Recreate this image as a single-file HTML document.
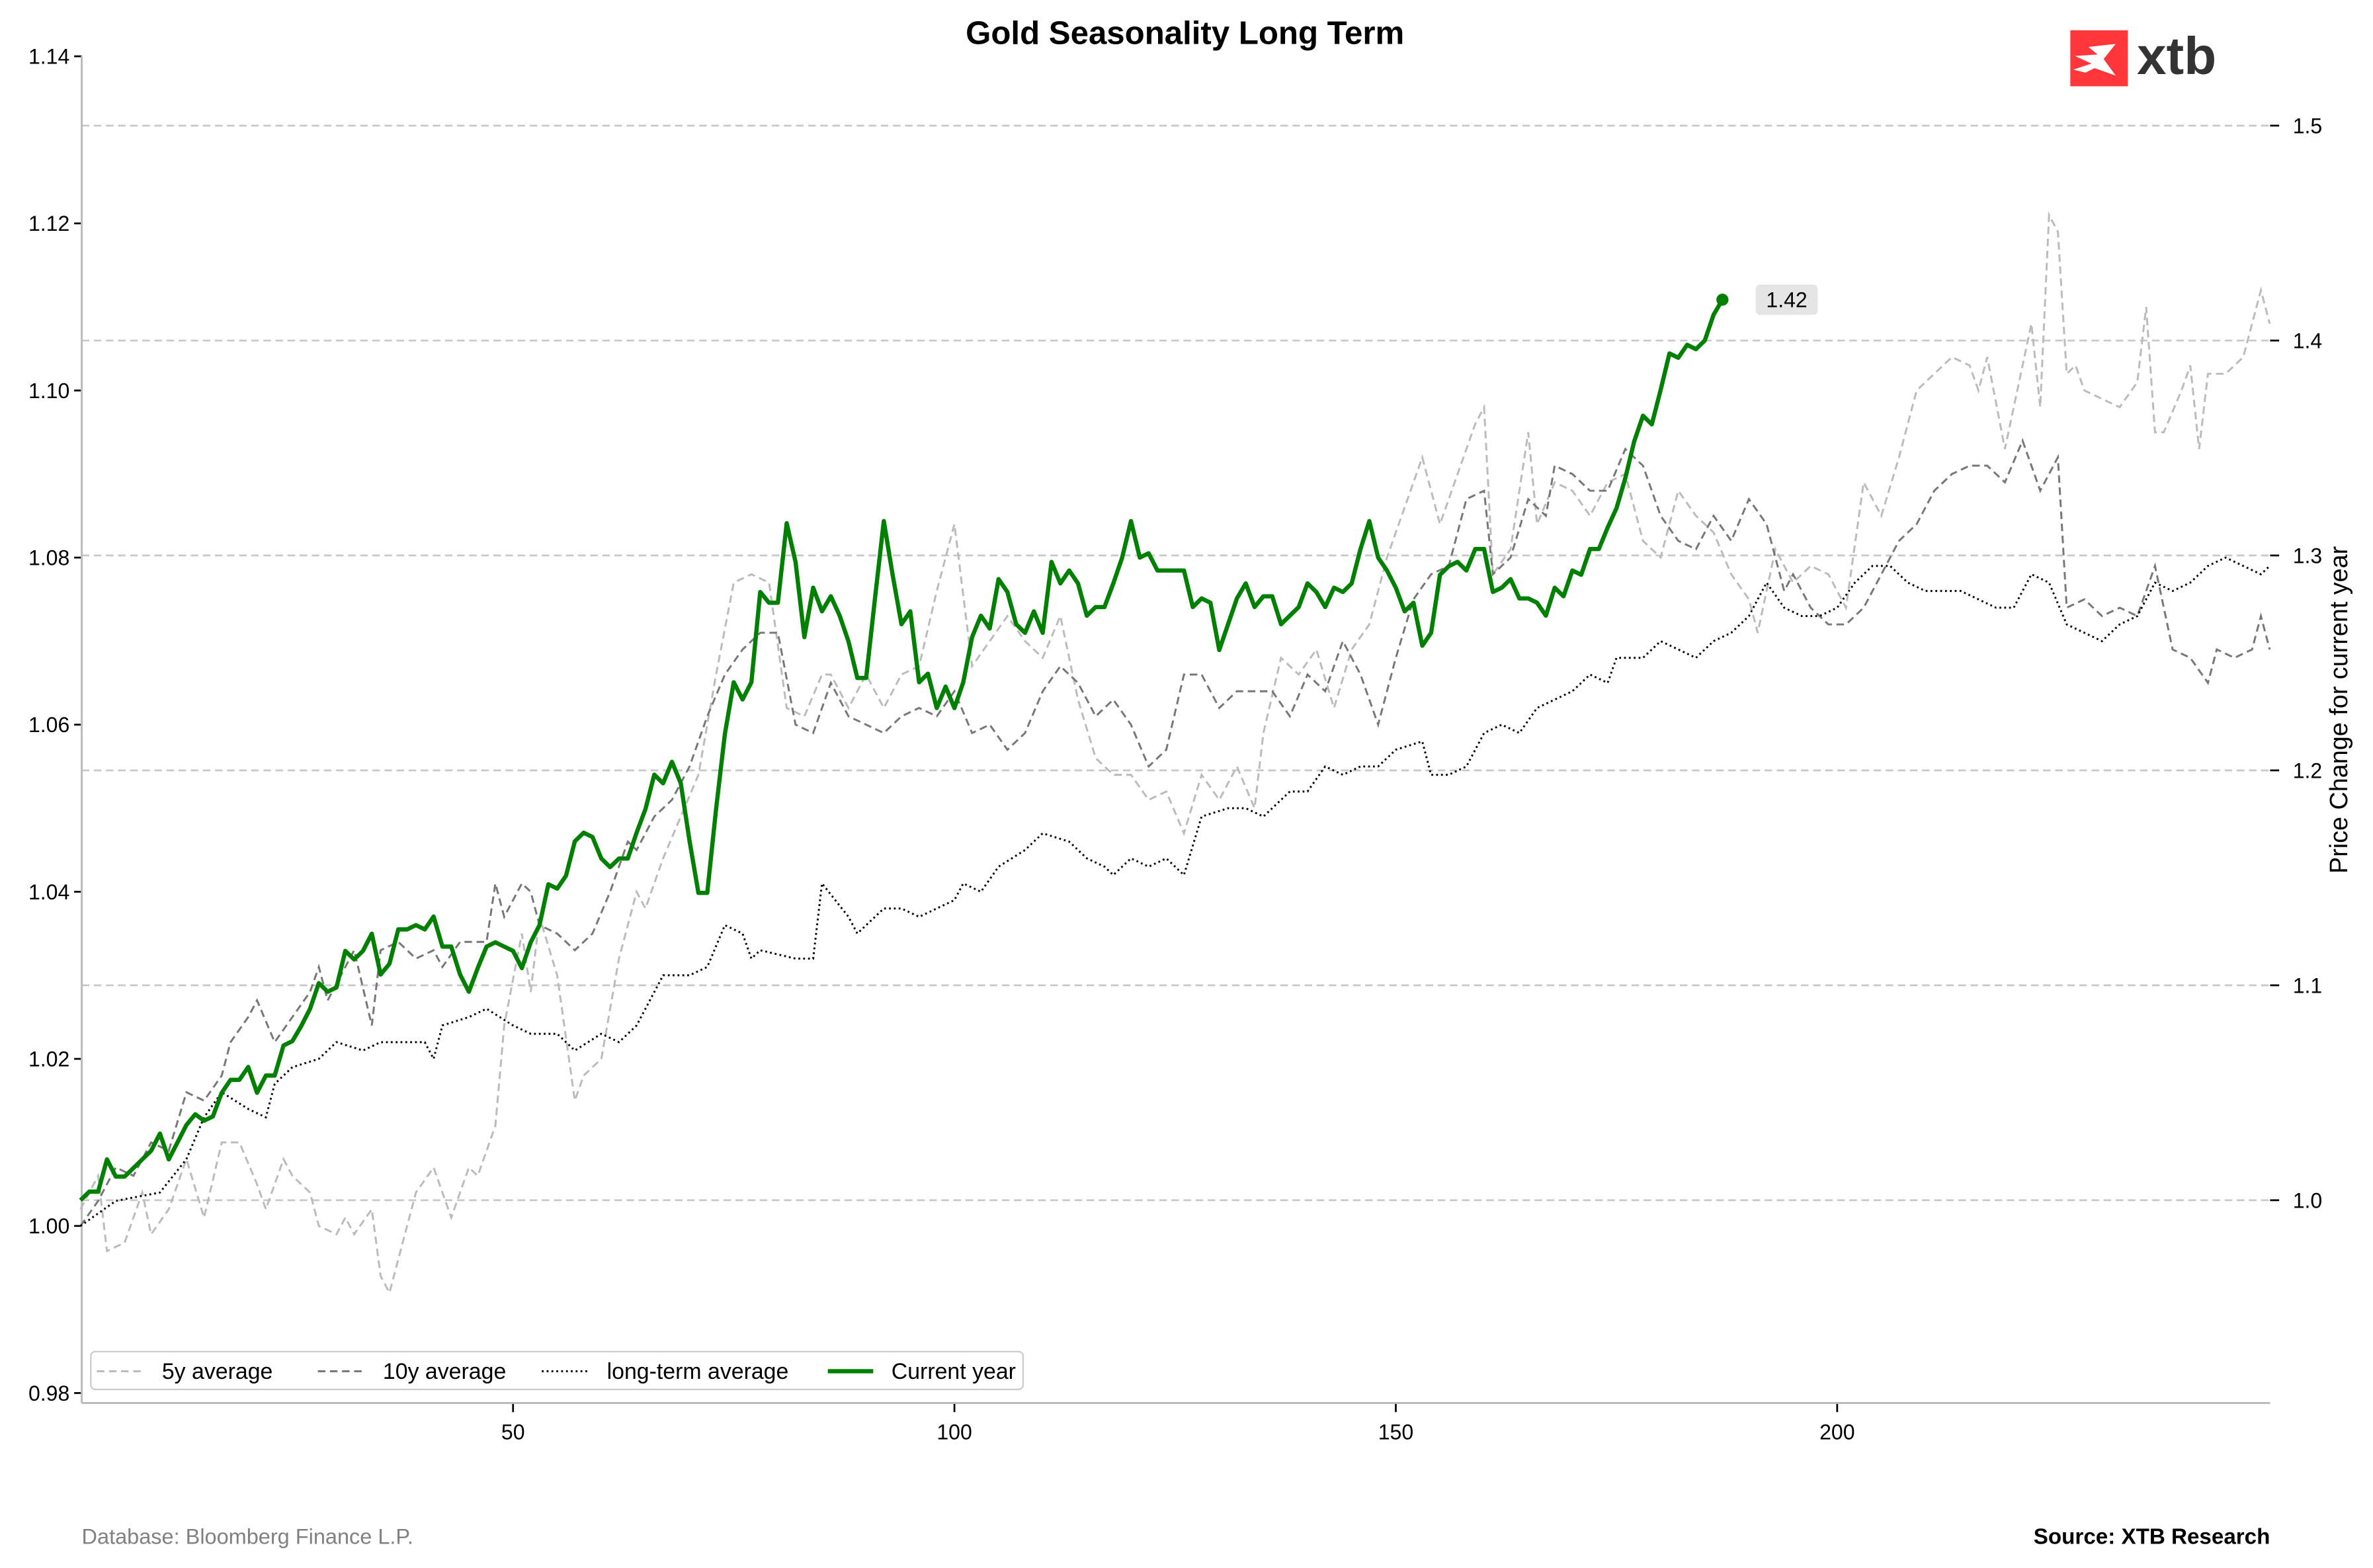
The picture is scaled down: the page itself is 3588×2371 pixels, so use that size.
<!DOCTYPE html>
<html><head><meta charset="utf-8"><style>
html,body{margin:0;padding:0;background:#fff;}
svg{display:block;font-family:"Liberation Sans",Arial,sans-serif;}
</style></head><body>
<svg id="chart" width="3588" height="2371" viewBox="0 0 1568 1036" preserveAspectRatio="none" xmlns="http://www.w3.org/2000/svg">
<rect width="1568" height="1036" fill="#fff"/>
<text x="783" y="29" text-anchor="middle" font-size="21.5" font-weight="bold" fill="#000">Gold Seasonality Long Term</text>
<g>
<rect x="1368" y="20" width="38" height="37" fill="#ff363a"/>
<path d="M1371 37 L1386 36 L1380 31 L1398 29 L1390 39 L1398 50 L1384 45 L1378 48 L1370 46 L1382 42 Z" fill="#fff"/>
<text x="1412" y="49" font-size="35" font-weight="bold" fill="#333">xtb</text>
</g>
<g id="grid"></g>
<g id="axes"></g>
<g id="series"></g>
<text transform="translate(1551,469) rotate(-90)" text-anchor="middle" font-size="16.5" fill="#000">Price Change for current year</text>
<g>
<rect x="60" y="893" width="616" height="25" rx="3" fill="#fff" stroke="#ccc" stroke-width="1"/>
<line x1="64" y1="906" x2="94" y2="906" stroke="#bbb" stroke-width="1.3" stroke-dasharray="5,3"/>
<text x="107" y="911" font-size="14.8">5y average</text>
<line x1="210" y1="906" x2="240" y2="906" stroke="#777" stroke-width="1.3" stroke-dasharray="5,3"/>
<text x="253" y="911" font-size="14.8">10y average</text>
<line x1="358" y1="906" x2="388" y2="906" stroke="#000" stroke-width="1.3" stroke-dasharray="1.2,2"/>
<text x="401" y="911" font-size="14.8">long-term average</text>
<line x1="547" y1="906" x2="577" y2="906" stroke="#008000" stroke-width="2.8"/>
<text x="589" y="911" font-size="14.8">Current year</text>
</g>
<text x="54" y="1020" font-size="14.2" fill="#808080">Database: Bloomberg Finance L.P.</text>
<text x="1500" y="1020" text-anchor="end" font-size="14.5" font-weight="bold" fill="#000">Source: XTB Research</text>
</svg>
<script>
const xTicks=[50,100,150,200];
const leftTicks=[0.98,1.00,1.02,1.04,1.06,1.08,1.10,1.12,1.14];
const rightTicks=[1.0,1.1,1.2,1.3,1.4,1.5];
const fiveYDays=[1,3,4,6,8,9,11,13,15,17,19,21,22,24,25,27,28,30,31,32,34,35,36,37,39,41,43,45,46,48,49,51,52,53,55,57,58,60,62,64,65,67,69,71,73,75,77,79,81,83,85,86,88,90,92,94,96,98,100,102,104,106,108,110,112,114,116,118,120,122,124,126,128,130,132,134,135,137,139,141,143,145,147,149,151,153,155,157,159,160,161,163,165,166,168,170,172,174,176,178,180,182,184,186,188,190,191,193,195,197,199,201,203,205,207,209,211,213,215,216,217,219,220,221,222,223,224,225,226,227,228,230,232,234,235,236,237,239,240,241,242,244,246,247,248,249];
const fiveYValues=[1.002,1.006,0.997,0.998,1.004,0.999,1.002,1.008,1.001,1.010,1.010,1.005,1.002,1.008,1.006,1.004,1.000,0.999,1.001,0.999,1.002,0.994,0.992,0.996,1.004,1.007,1.001,1.007,1.006,1.012,1.024,1.035,1.028,1.037,1.030,1.015,1.018,1.020,1.032,1.040,1.038,1.044,1.049,1.054,1.066,1.077,1.078,1.077,1.062,1.061,1.066,1.066,1.062,1.066,1.062,1.066,1.067,1.076,1.084,1.067,1.070,1.073,1.070,1.068,1.073,1.063,1.056,1.054,1.054,1.051,1.052,1.047,1.054,1.051,1.055,1.050,1.059,1.068,1.066,1.069,1.062,1.069,1.072,1.080,1.086,1.092,1.084,1.090,1.096,1.098,1.078,1.081,1.095,1.084,1.089,1.088,1.085,1.089,1.090,1.082,1.080,1.088,1.085,1.083,1.078,1.075,1.071,1.081,1.077,1.079,1.078,1.074,1.089,1.085,1.092,1.100,1.102,1.104,1.103,1.100,1.104,1.093,1.098,1.103,1.108,1.098,1.121,1.119,1.102,1.103,1.100,1.099,1.098,1.101,1.110,1.095,1.095,1.100,1.103,1.093,1.102,1.102,1.104,1.108,1.112,1.108];
const tenYDays=[1,3,5,7,9,11,13,15,17,18,20,21,23,25,27,28,29,31,32,34,35,37,39,41,42,44,45,47,48,49,51,52,53,55,57,59,61,63,64,66,68,70,72,74,76,78,80,82,84,86,88,90,92,94,96,98,100,102,104,106,108,110,112,114,116,118,120,122,124,126,128,130,132,134,136,138,140,142,144,146,148,150,152,154,156,158,160,161,163,165,167,168,170,172,174,176,178,180,182,184,186,188,190,192,194,195,197,199,201,203,205,207,209,211,213,215,217,219,221,222,223,225,226,228,230,232,234,236,238,240,242,243,245,247,248,249];
const tenYValues=[1.000,1.003,1.007,1.006,1.010,1.009,1.016,1.015,1.018,1.022,1.025,1.027,1.022,1.025,1.028,1.031,1.027,1.031,1.033,1.024,1.033,1.034,1.032,1.033,1.031,1.034,1.034,1.034,1.041,1.037,1.041,1.040,1.036,1.035,1.033,1.035,1.040,1.046,1.045,1.049,1.051,1.055,1.061,1.066,1.069,1.071,1.071,1.060,1.059,1.065,1.061,1.060,1.059,1.061,1.062,1.061,1.064,1.059,1.060,1.057,1.059,1.064,1.067,1.065,1.061,1.063,1.060,1.055,1.057,1.066,1.066,1.062,1.064,1.064,1.064,1.061,1.066,1.064,1.070,1.066,1.060,1.068,1.075,1.078,1.079,1.087,1.088,1.078,1.080,1.087,1.085,1.091,1.090,1.088,1.088,1.093,1.091,1.085,1.082,1.081,1.085,1.082,1.087,1.084,1.076,1.078,1.074,1.072,1.072,1.074,1.078,1.082,1.084,1.088,1.090,1.091,1.091,1.089,1.094,1.091,1.088,1.092,1.074,1.075,1.073,1.074,1.073,1.079,1.069,1.068,1.065,1.069,1.068,1.069,1.073,1.069];
const longTermDays=[1,5,10,13,15,17,20,22,23,25,28,30,33,35,40,41,42,45,47,50,52,55,57,60,62,64,67,70,72,74,76,77,78,82,84,85,88,89,92,94,96,100,101,103,105,108,110,113,115,117,118,120,122,124,126,128,131,133,135,138,140,142,144,146,148,150,153,154,156,158,160,162,164,166,168,170,172,174,175,178,180,182,184,186,188,190,192,194,196,198,200,202,204,206,208,210,212,214,216,218,220,222,224,226,228,230,232,234,236,238,240,242,244,246,248,249];
const longTermValues=[1.000,1.003,1.004,1.008,1.013,1.016,1.014,1.013,1.017,1.019,1.020,1.022,1.021,1.022,1.022,1.020,1.024,1.025,1.026,1.024,1.023,1.023,1.021,1.023,1.022,1.024,1.030,1.030,1.031,1.036,1.035,1.032,1.033,1.032,1.032,1.041,1.037,1.035,1.038,1.038,1.037,1.039,1.041,1.040,1.043,1.045,1.047,1.046,1.044,1.043,1.042,1.044,1.043,1.044,1.042,1.049,1.050,1.050,1.049,1.052,1.052,1.055,1.054,1.055,1.055,1.057,1.058,1.054,1.054,1.055,1.059,1.060,1.059,1.062,1.063,1.064,1.066,1.065,1.068,1.068,1.070,1.069,1.068,1.070,1.071,1.073,1.077,1.074,1.073,1.073,1.074,1.077,1.079,1.079,1.077,1.076,1.076,1.076,1.075,1.074,1.074,1.078,1.077,1.072,1.071,1.070,1.072,1.073,1.077,1.076,1.077,1.079,1.080,1.079,1.078,1.079];
const currentYearValues=[1.000,1.004,1.004,1.019,1.011,1.011,1.015,1.019,1.023,1.031,1.019,1.027,1.035,1.040,1.037,1.039,1.050,1.056,1.056,1.062,1.050,1.058,1.058,1.072,1.074,1.081,1.089,1.101,1.097,1.099,1.116,1.112,1.116,1.124,1.105,1.110,1.126,1.126,1.128,1.126,1.132,1.118,1.118,1.105,1.097,1.108,1.118,1.120,1.118,1.116,1.108,1.120,1.128,1.147,1.145,1.151,1.167,1.171,1.169,1.159,1.155,1.159,1.159,1.171,1.182,1.198,1.194,1.204,1.194,1.167,1.143,1.143,1.182,1.217,1.241,1.233,1.241,1.283,1.278,1.278,1.315,1.297,1.262,1.285,1.274,1.281,1.272,1.260,1.243,1.243,1.280,1.316,1.291,1.268,1.274,1.241,1.245,1.229,1.239,1.229,1.241,1.262,1.272,1.266,1.289,1.283,1.268,1.264,1.274,1.264,1.297,1.287,1.293,1.287,1.272,1.276,1.276,1.287,1.299,1.316,1.299,1.301,1.293,1.293,1.293,1.293,1.276,1.280,1.278,1.256,1.268,1.280,1.287,1.276,1.281,1.281,1.268,1.272,1.276,1.287,1.283,1.276,1.285,1.283,1.287,1.303,1.316,1.299,1.293,1.285,1.274,1.278,1.258,1.264,1.291,1.295,1.297,1.293,1.303,1.303,1.283,1.285,1.289,1.280,1.280,1.278,1.272,1.285,1.281,1.293,1.291,1.303,1.303,1.313,1.322,1.336,1.353,1.365,1.361,1.377,1.394,1.392,1.398,1.396,1.400,1.412,1.419];

const NS="http://www.w3.org/2000/svg";
const PL=54,PR=1500,PT=37,PB=927;
function xScale(d){return 339+(d-50)*5.833;}
function yLeft(v){return 810-(v-1)*5520;}
function yRight(r){return 793-(r-1)*1420;}
function mk(tag,attrs,parent){const e=document.createElementNS(NS,tag);for(const k in attrs)e.setAttribute(k,attrs[k]);parent.appendChild(e);return e;}
const grid=document.getElementById('grid'),axes=document.getElementById('axes'),series=document.getElementById('series');

rightTicks.forEach(t=>{
  const y=yRight(t);
  const g=mk('line',{x1:PL,x2:PR,y1:y,y2:y,stroke:'#c8c8c8','stroke-width':1.2,'stroke-dasharray':'5,3'},grid);
  
  
  const tk=mk('line',{x1:PR,x2:PR+6,y1:y,y2:y,stroke:'#000','stroke-width':1.2},axes);
  
  
  const tx=mk('text',{x:PR+15,y:y+5,'font-size':14,fill:'#000'},axes);
  tx.textContent=t.toFixed(1);
  
  
});
leftTicks.forEach(t=>{
  const y=yLeft(t);
  const tk=mk('line',{x1:PL-5,x2:PL,y1:y,y2:y,stroke:'#000','stroke-width':1.2},axes);
  
  
  const tx=mk('text',{x:PL-8,y:y+5,'font-size':14,'text-anchor':'end',fill:'#000'},axes);
  tx.textContent=t.toFixed(2);
  
  
});
xTicks.forEach(t=>{
  const x=xScale(t);
  const tk=mk('line',{x1:x,x2:x,y1:PB,y2:PB+6,stroke:'#000','stroke-width':1.2},axes);
  
  
  const tx=mk('text',{x:x,y:PB+24,'font-size':14,'text-anchor':'middle',fill:'#000'},axes);
  tx.textContent=String(t);
  
  
});
const ls=mk('line',{x1:PL,x2:PL,y1:PT,y2:PB,stroke:'#bbb','stroke-width':1.3},axes);


const bs=mk('line',{x1:PL,x2:PR,y1:PB,y2:PB,stroke:'#bbb','stroke-width':1.3},axes);



function pathFrom(days,vals,ys){return days.map((d,i)=>(i?'L':'M')+xScale(d).toFixed(2)+' '+ys(vals[i]).toFixed(2)).join(' ');}
const p5=mk('path',{d:pathFrom(fiveYDays,fiveYValues,yLeft),fill:'none',stroke:'#bbb','stroke-width':1.3,'stroke-dasharray':'5,3'},series);


const p10=mk('path',{d:pathFrom(tenYDays,tenYValues,yLeft),fill:'none',stroke:'#777','stroke-width':1.3,'stroke-dasharray':'5,3'},series);


const pl=mk('path',{d:pathFrom(longTermDays,longTermValues,yLeft),fill:'none',stroke:'#000','stroke-width':1.3,'stroke-dasharray':'1.2,2'},series);


const curDays=currentYearValues.map((v,i)=>i+1);
const pc=mk('path',{d:pathFrom(curDays,currentYearValues,yRight),fill:'none',stroke:'#008000','stroke-width':2.8,'stroke-linejoin':'round'},series);


const lastI=currentYearValues.length-1;
const lx=xScale(lastI+1),ly=yRight(currentYearValues[lastI]);
const dot=mk('circle',{cx:lx,cy:ly,r:4,fill:'#008000'},series);


const lb=mk('rect',{x:lx+22,y:ly-10,width:41,height:20,rx:3,fill:'#e5e5e5'},series);


const lt=mk('text',{x:lx+42.5,y:ly+5,'font-size':14,'text-anchor':'middle',fill:'#000'},series);
lt.textContent=currentYearValues[lastI].toFixed(2);


</script>
</body></html>
